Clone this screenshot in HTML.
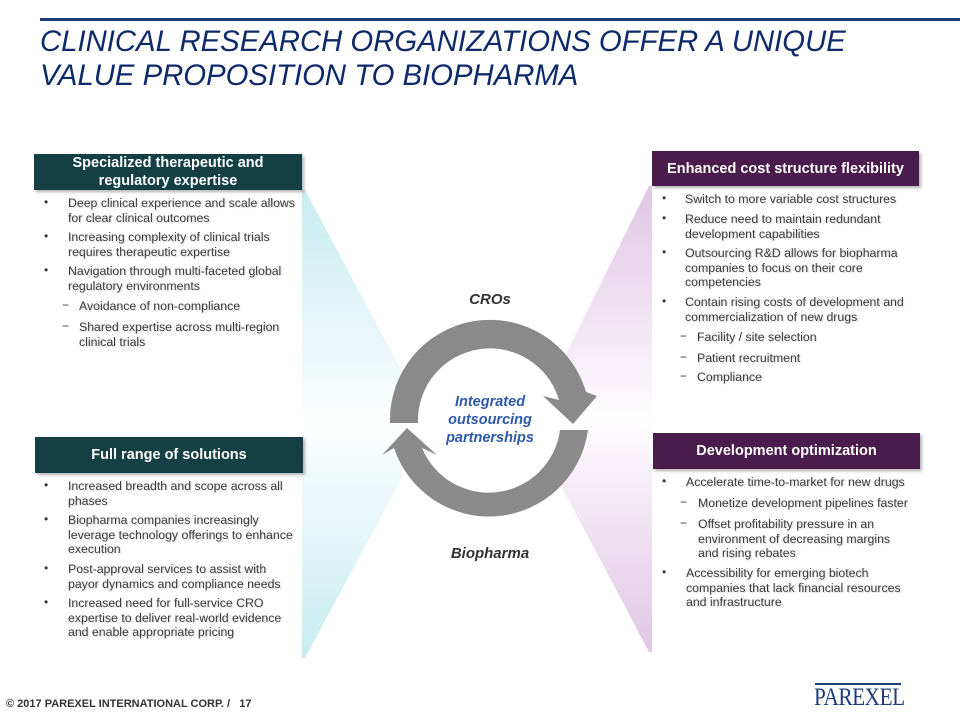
<!DOCTYPE html>
<html><head><meta charset="utf-8"><style>
*{margin:0;padding:0}
body{width:960px;height:720px;position:relative;background:#fff;font-family:"Liberation Sans",Arial,sans-serif;overflow:hidden}
.t{position:absolute;font-size:12.3px;line-height:14.5px;color:#3a3a3a;text-shadow:1px 1px 1px rgba(0,0,0,0.15)}
.b{position:absolute;font-size:12px;color:#3a3a3a}
.hd{position:absolute;color:#fff;font-weight:bold;font-size:14.5px;line-height:18px;text-align:center;display:flex;align-items:center;justify-content:center;box-shadow:2px 2px 3px rgba(0,0,0,0.3)}
.g{background:#143f45}.p{background:#4a1c4c}
</style></head><body>
<svg width="960" height="720" style="position:absolute;left:0;top:0">
<defs>
<linearGradient id="c" x1="0" x2="0" y1="0" y2="1"><stop offset="0" stop-color="#c8ecf1"/><stop offset="0.42" stop-color="#f4fbfc"/><stop offset="0.5" stop-color="#fff"/><stop offset="0.58" stop-color="#f4fbfc"/><stop offset="1" stop-color="#c8ecf1"/></linearGradient>
<linearGradient id="p" x1="0" x2="0" y1="0" y2="1"><stop offset="0" stop-color="#e0c6e4"/><stop offset="0.42" stop-color="#f9f3fa"/><stop offset="0.5" stop-color="#fff"/><stop offset="0.58" stop-color="#f9f3fa"/><stop offset="1" stop-color="#e0c6e4"/></linearGradient>
</defs>
<polygon points="302,190 305,190 402,372 402,478 305,658 302,658" fill="url(#c)"/>
<polygon points="652,186 649,186 558,370 558,480 649,652 652,652" fill="url(#p)"/>
<line x1="40" y1="19.5" x2="960" y2="19.5" stroke="#1d3c78" stroke-width="3"/>
<g fill="#8a8a8a">
<path d="M390,423 A100,100 0 0 1 586,392 L597,396 L573,424 L543,396 L559,400 A72,72 0 0 0 418,423 Z"/>
<path d="M588,430 A100,100 0 0 1 394,448 L382,455 L407,428 L437,455 L422,448 A72,72 0 0 0 560,430 Z"/>
</g>
</svg>
<div style="position:absolute;left:40px;top:25px;font-size:29.3px;line-height:34px;font-style:italic;color:#0f2a6b;white-space:nowrap">CLINICAL RESEARCH ORGANIZATIONS OFFER A UNIQUE<br>VALUE PROPOSITION TO BIOPHARMA</div>

<div class="hd g" style="left:34px;top:154px;width:268px;height:36px">Specialized therapeutic and<br>regulatory expertise</div>
<div class="hd g" style="left:35px;top:437px;width:268px;height:36px">Full range of solutions</div>
<div class="hd p" style="left:652px;top:151px;width:267px;height:35px">Enhanced cost structure flexibility</div>
<div class="hd p" style="left:653px;top:433px;width:267px;height:36px">Development optimization</div>

<div class="b" style="left:44px;top:195px">•</div><div class="t" style="left:68px;top:196px">Deep clinical experience and scale allows<br>for clear clinical outcomes</div>
<div class="b" style="left:44px;top:229px">•</div><div class="t" style="left:68px;top:230px">Increasing complexity of clinical trials<br>requires therapeutic expertise</div>
<div class="b" style="left:44px;top:263px">•</div><div class="t" style="left:68px;top:264px">Navigation through multi-faceted global<br>regulatory environments</div>
<div class="b" style="left:62px;top:298px">−</div><div class="t" style="left:79px;top:299px">Avoidance of non-compliance</div>
<div class="b" style="left:62px;top:319px">−</div><div class="t" style="left:79px;top:320px">Shared expertise across multi-region<br>clinical trials</div>

<div class="b" style="left:44px;top:478px">•</div><div class="t" style="left:68px;top:479px">Increased breadth and scope across all<br>phases</div>
<div class="b" style="left:44px;top:512px">•</div><div class="t" style="left:68px;top:513px">Biopharma companies increasingly<br>leverage technology offerings to enhance<br>execution</div>
<div class="b" style="left:44px;top:561px">•</div><div class="t" style="left:68px;top:562px">Post-approval services to assist with<br>payor dynamics and compliance needs</div>
<div class="b" style="left:44px;top:595px">•</div><div class="t" style="left:68px;top:596px">Increased need for full-service CRO<br>expertise to deliver real-world evidence<br>and enable appropriate pricing</div>

<div class="b" style="left:662px;top:191px">•</div><div class="t" style="left:685px;top:192px">Switch to more variable cost structures</div>
<div class="b" style="left:662px;top:211px">•</div><div class="t" style="left:685px;top:212px">Reduce need to maintain redundant<br>development capabilities</div>
<div class="b" style="left:662px;top:245px">•</div><div class="t" style="left:685px;top:246px">Outsourcing R&amp;D allows for biopharma<br>companies to focus on their core<br>competencies</div>
<div class="b" style="left:662px;top:294px">•</div><div class="t" style="left:685px;top:295px">Contain rising costs of development and<br>commercialization of new drugs</div>
<div class="b" style="left:680px;top:329px">−</div><div class="t" style="left:697px;top:330px">Facility / site selection</div>
<div class="b" style="left:680px;top:350px">−</div><div class="t" style="left:697px;top:351px">Patient recruitment</div>
<div class="b" style="left:680px;top:369px">−</div><div class="t" style="left:697px;top:370px">Compliance</div>

<div class="b" style="left:662px;top:474px">•</div><div class="t" style="left:686px;top:475px">Accelerate time-to-market for new drugs</div>
<div class="b" style="left:680px;top:495px">−</div><div class="t" style="left:698px;top:496px">Monetize development pipelines faster</div>
<div class="b" style="left:680px;top:516px">−</div><div class="t" style="left:698px;top:517px">Offset profitability pressure in an<br>environment of decreasing margins<br>and rising rebates</div>
<div class="b" style="left:662px;top:565px">•</div><div class="t" style="left:686px;top:566px">Accessibility for emerging biotech<br>companies that lack financial resources<br>and infrastructure</div>

<div style="position:absolute;left:440px;top:291px;width:100px;text-align:center;font-weight:bold;font-style:italic;font-size:15px;color:#333">CROs</div>
<div style="position:absolute;left:430px;top:393px;width:120px;text-align:center;font-weight:bold;font-style:italic;font-size:14.5px;line-height:18px;color:#2e5aa8">Integrated<br>outsourcing<br>partnerships</div>
<div style="position:absolute;left:430px;top:545px;width:120px;text-align:center;font-weight:bold;font-style:italic;font-size:15px;color:#333">Biopharma</div>

<div style="position:absolute;left:6px;top:698px;font-size:11px;font-weight:bold;color:#333;white-space:nowrap">© 2017 PAREXEL INTERNATIONAL CORP. / &nbsp;&nbsp;17</div>
<div style="position:absolute;left:815px;top:683px;width:86px;height:2px;background:#1d3c78"></div>
<div style="position:absolute;left:814px;top:684px;font-family:'Liberation Serif',serif;font-size:25px;color:#1d3c78;letter-spacing:-0.5px;transform:scaleX(0.85);transform-origin:left">PAREXEL</div>
</body></html>
